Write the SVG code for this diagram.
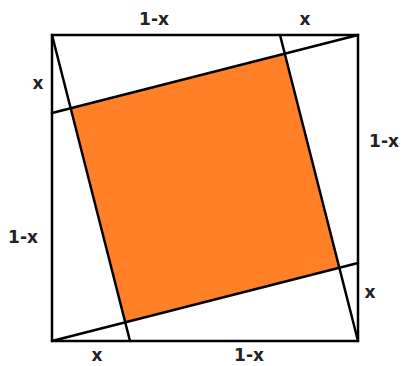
<svg xmlns="http://www.w3.org/2000/svg" width="405" height="366" viewBox="0 0 405 366">
<style>
.ln{stroke:#000;stroke-width:2.5;fill:none;stroke-linecap:round}
.lb{font-family:"DejaVu Sans",sans-serif;font-weight:bold;font-size:17px;fill:#222}
</style>
<rect width="405" height="366" fill="#fff"/>
<polygon points="70.67,108.24 284.76,53.67 339.33,267.76 125.24,322.33" fill="#ff8026"/>
<g id="lines">
<rect x="52" y="35" width="306" height="306" class="ln" stroke-width="3"/>
<line x1="52" y1="35" x2="130" y2="341" class="ln"/>
<line x1="52" y1="113" x2="358" y2="35" class="ln"/>
<line x1="280" y1="35" x2="358" y2="341" class="ln"/>
<line x1="52" y1="341" x2="358" y2="263" class="ln"/>
</g>
<g id="labels">
<text class="lb" x="154" y="25" text-anchor="middle">1-x</text>
<text class="lb" x="305" y="25" text-anchor="middle">x</text>
<text class="lb" x="38" y="89" text-anchor="middle">x</text>
<text class="lb" x="384" y="147" text-anchor="middle">1-x</text>
<text class="lb" x="23" y="243" text-anchor="middle">1-x</text>
<text class="lb" x="370" y="298" text-anchor="middle">x</text>
<text class="lb" x="97" y="361" text-anchor="middle">x</text>
<text class="lb" x="249" y="361" text-anchor="middle">1-x</text>
</g>
</svg>
